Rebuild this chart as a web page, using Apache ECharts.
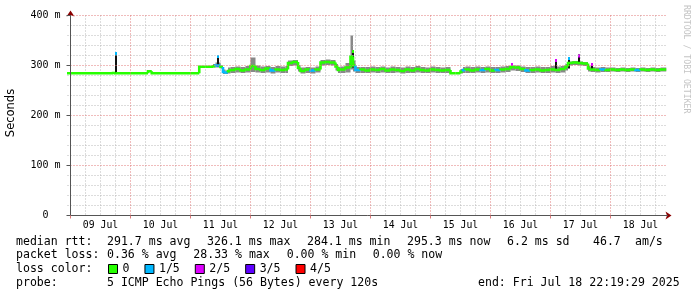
<!DOCTYPE html>
<html><head><meta charset="utf-8">
<script src="https://cdn.jsdelivr.net/npm/echarts@6/dist/echarts.min.js"></script>
<style>html,body{margin:0;padding:0;background:#fff}#c{width:697px;height:297px}</style>
</head><body><div id="c"></div>
<script>
// ---- tick labels / categories ----
const dayLabels = ['09 Jul','10 Jul','11 Jul','12 Jul','13 Jul','14 Jul','15 Jul','16 Jul','17 Jul','18 Jul'];
const dayLabelHours = [12,36,60,84,108,132,156,180,204,228];
const lossNames = ['0','1/5','2/5','3/5','4/5'];
const lossColors = ['#26ff00','#00b8ff','#dd00ff','#5e00ff','#ff0000'];

// ---- data (hours since 09 Jul 00:00) ----
const hours =     [-2,   17,   18,   31,   32.5, 51.5, 54,   57,  58,  60,  61,  62,  63,  64,  66,  68,  70,  72,  74,  76,  78,  80,  82,  84,  86,  87,  89,  91,  92,  94,  96,  98,  100, 102, 104, 106, 107, 108, 110, 112, 113, 114, 116, 118, 120, 122, 124, 126, 128, 130, 132, 134, 136, 138, 140, 142, 144, 146, 148, 150, 152, 154,  156,  157, 158, 160, 162, 164, 166, 168, 170, 172, 174, 176, 178, 180, 182, 184, 186, 188, 190, 192, 194, 196, 198, 199, 201, 203, 205, 207, 208, 210, 212, 214, 216, 218, 220, 222, 224, 226, 228, 230, 232, 234, 236, 238.3];
const medianRtt = [284.5,284.5,285,  284.5,288.5,284.5,297.5,297.5,298.5,300,297,287,286,289,291,293,290,292,299,293,291,294,290,292,291,292,305,307,295,289,292,290,292,306,307,306,298,291,292,296,318,300,291,292,290,292,291,293,290,292,291,289,292,290,293,291,290,292,291,290,291,284.5,284.5,288,291,292,290,292,291,293,290,291,292,293,297,296,293,290,291,292,290,291,292,291,293,298,305,306,305,304,294,292,291,292,291,292,291,292,291,292,291,292,291,292,291,292];
const smokeLow =  [284,  284,  284,  284,  288,  284,  296.5,296, 296, 296, 294, 283, 283, 284, 285, 286, 285, 286, 287, 286, 285, 286, 284, 286, 285, 285, 299, 300, 288, 284, 285, 284, 286, 300, 301, 300, 290, 285, 285, 286, 292, 288, 285, 285, 285, 286, 285, 286, 285, 285, 286, 284, 285, 285, 286, 285, 285, 286, 285, 285, 285, 284,  284,  284, 285, 285, 285, 286, 285, 286, 285, 285, 286, 287, 290, 289, 287, 285, 285, 286, 285, 285, 286, 285, 286, 290, 300, 301, 300, 299, 288, 287, 286, 287, 287, 288, 287, 288, 287, 288, 287, 288, 287, 288, 287, 288];
const smokeHigh = [285.5,285.5,286,  285.5,289,  285.5,298.5,299, 303, 306, 300, 292, 290, 296, 297, 298, 297, 299, 316, 300, 298, 299, 297, 299, 298, 299, 310, 311, 301, 296, 297, 296, 298, 311, 312, 311, 303, 297, 298, 305, 360, 310, 297, 297, 297, 298, 297, 298, 296, 298, 297, 296, 298, 297, 299, 297, 296, 298, 297, 296, 297, 285.5,285.5,293, 297, 298, 297, 298, 297, 298, 297, 297, 298, 299, 300, 300, 298, 297, 297, 298, 297, 297, 299, 298, 299, 303, 308, 309, 308, 307, 299, 297, 296, 297, 296, 296, 295, 296, 295, 296, 295, 296, 295, 296, 295, 296];
const lossIdx =   [0,    0,    0,    0,    0,    0,    0,    0,   0,   1,   0,   1,   1,   0,   0,   0,   0,   0,   0,   0,   0,   0,   1,   0,   0,   0,   0,   0,   0,   0,   0,   1,   0,   0,   0,   0,   0,   0,   0,   0,   0,   0,   1,   0,   0,   0,   0,   0,   0,   0,   0,   0,   0,   0,   0,   0,   0,   0,   0,   0,   0,   0,    0,    0,   1,   0,   0,   0,   1,   0,   0,   1,   0,   0,   0,   0,   0,   1,   0,   0,   0,   0,   0,   0,   0,   0,   0,   0,   0,   0,   0,   0,   0,   1,   0,   0,   0,   0,   0,   0,   1,   0,   0,   0,   0,   0];

// dark spikes (outlier pings) with median loss colour on top
const spikeHours = [18,  59,  113, 176.5, 194, 199.5, 203.3, 208.7];
const spikeLow   = [285, 298, 296, 297,   292, 294,   305,   293];
const spikeHigh  = [327, 321, 331, 305,   313, 317,   322,   305];
const spikeLoss  = [1,   1,   0,   2,     2,   1,     2,     2];

const yMajor = 100, yMinorSplit = 5;
const midnightHours = [], minorHours = [];
for (let h = 0; h < 240; h += 6) (h % 24 === 0 ? midnightHours : minorHours).push(h);

const mono = 'DejaVu Sans Mono';
const smokeData = hours.map((h,i)=>[h, smokeLow[i], smokeHigh[i], i>0?hours[i-1]:h]);
const medData = hours.map((h,i)=>[h, medianRtt[i], lossIdx[i], i>0?hours[i-1]:h, i>0?medianRtt[i-1]:medianRtt[i]]);
const spikeData = spikeHours.map((h,i)=>[h, spikeLow[i], spikeHigh[i], spikeLoss[i]]);

const chart = echarts.init(document.getElementById('c'), null, {renderer:'canvas'});
const axisCol = '#555';
const majorCol = '#e07878';
const minorCol = '#b8b8b8';

const footer = [];
function t(x,y,s){ footer.push({type:'text', x:x, y:y, style:{text:s, font:'11.55px "DejaVu Sans Mono"', fill:'#000', verticalAlign:'middle'}}); }
const r1=241.5, r2=255.3, r3=269.2, r4=283;
t(16,r1,'median rtt:'); t(107,r1,'291.7 ms avg'); t(207,r1,'326.1 ms max'); t(307,r1,'284.1 ms min'); t(407,r1,'295.3 ms now'); t(507,r1,'6.2 ms sd'); t(593,r1,'46.7'); t(635,r1,'am/s');
t(16,r2,'packet loss:'); t(107,r2,'0.36 % avg'); t(193.3,r2,'28.33 % max'); t(286.7,r2,'0.00 % min'); t(372.7,r2,'0.00 % now');
t(16,r3,'loss color:');
t(16,r4,'probe:'); t(107,r4,'5 ICMP Echo Pings (56 Bytes) every 120s'); t(478,r4,'end: Fri Jul 18 22:19:29 2025');
footer.push({type:'text', x:11, y:113, rotation:Math.PI/2, style:{text:'Seconds', font:'11.5px "DejaVu Sans"', fill:'#000', align:'center', verticalAlign:'middle'}});
footer.push({type:'text', x:686, y:5, rotation:-Math.PI/2, style:{text:'RRDTOOL / TOBI OETIKER', font:'8.2px "DejaVu Sans Mono"', fill:'#c4c4c4', align:'left', verticalAlign:'middle'}});

const legendSeries = lossNames.map((n,i)=>({name:n, type:'line', data:[], itemStyle:{color:lossColors[i]}, lineStyle:{color:lossColors[i]}}));

chart.setOption({
  animation:false,
  backgroundColor:'#fff',
  grid:{left:67.5, width:600, top:15.5, height:200},
  legend:{data:lossNames, left:108, top:263, padding:0, icon:'rect', itemWidth:9, itemHeight:9, itemGap:15, selectedMode:false,
    itemStyle:{borderColor:'#000', borderWidth:1},
    textStyle:{fontFamily:mono, fontSize:11.55, color:'#000'}},
  xAxis:[{
    type:'value', min:-1.2, max:238.8, z:5,
    axisLine:{show:true, onZero:false, lineStyle:{color:axisCol}},
    axisTick:{show:true, customValues:midnightHours, length:3, lineStyle:{color:majorCol}},
    axisLabel:{customValues:dayLabelHours, formatter:v=>dayLabels[dayLabelHours.indexOf(v)]||'', fontFamily:mono, fontSize:9.8, color:'#000', margin:5},
    splitLine:{show:true, lineStyle:{color:majorCol, type:[1,2], width:1}}
  },{
    type:'value', min:-1.2, max:238.8, position:'bottom', z:1,
    axisLine:{show:true, onZero:false, symbol:['none','arrow'], symbolSize:[6,6], symbolOffset:[0,4], lineStyle:{color:'#8b0000', width:0}},
    axisTick:{show:false, customValues:minorHours}, axisLabel:{show:false},
    splitLine:{show:true, lineStyle:{color:minorCol, type:[1,2], width:1}}
  }],
  yAxis:[{
    type:'value', min:0, max:400, interval:yMajor, z:5,
    axisLine:{show:true, lineStyle:{color:axisCol}},
    axisTick:{show:true, length:4, lineStyle:{color:axisCol}},
    axisLabel:{formatter:v=>v===0?'0  ':v+' m', fontFamily:mono, fontSize:10, color:'#000', margin:7},
    splitLine:{show:true, lineStyle:{color:majorCol, type:[1,2]}},
    minorTick:{show:false, splitNumber:yMinorSplit},
    minorSplitLine:{show:true, lineStyle:{color:minorCol, type:[1,2]}}
  },{
    type:'value', min:0, max:400, position:'left', z:1,
    axisLine:{show:true, symbol:['none','arrow'], symbolSize:[6,6], symbolOffset:[0,5], lineStyle:{color:'#8b0000', width:0}},
    axisTick:{show:false}, axisLabel:{show:false}, splitLine:{show:false}
  }],
  series:[
    {type:'custom', name:'smoke', data:smokeData, clip:true, z:2, silent:true,
      renderItem:(params, api)=>{
        const h=api.value(0), ph=api.value(3);
        const a=api.coord([ph, api.value(2)]), b=api.coord([h, api.value(1)]);
        return {type:'rect', shape:{x:a[0], y:a[1], width:b[0]-a[0], height:b[1]-a[1]}, style:{fill:'#888'}};
      }},
    {type:'custom', name:'spikes', data:spikeData, clip:true, z:3,
      renderItem:(params, api)=>{
        const h=api.value(0), lo=api.coord([h, api.value(1)]), hi=api.coord([h, api.value(2)]);
        const c = lossColors[api.value(3)];
        return {type:'group', children:[
          {type:'rect', shape:{x:Math.round(lo[0])-1, y:hi[1], width:2, height:lo[1]-hi[1]}, style:{fill:'#111'}},
          {type:'rect', shape:{x:Math.round(lo[0])-1, y:hi[1], width:2, height:3}, style:{fill:c}}
        ]};
      }},
    {type:'custom', name:'median', data:medData, clip:true, z:4,
      renderItem:(params, api)=>{
        const h=api.value(0), m=api.value(1), ph=api.value(3), pm=api.value(4);
        const a=api.coord([ph,pm]), b=api.coord([ph,m]), c=api.coord([h,m]);
        return {type:'polyline', shape:{points:[a,b,c]}, style:{stroke:lossColors[api.value(2)], lineWidth:2.6, fill:null}};
      }},
    ...legendSeries
  ],
  graphic: footer
});
</script></body></html>
